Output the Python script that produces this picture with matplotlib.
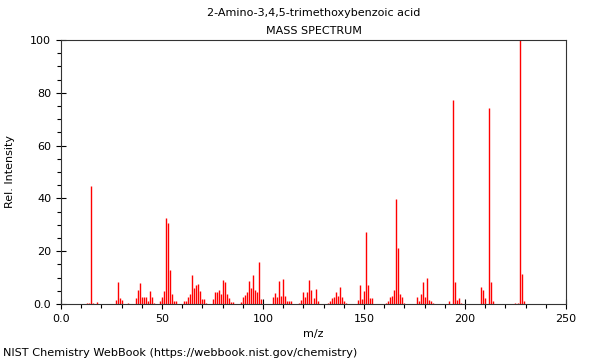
import numpy as np
import matplotlib.pyplot as plt
from matplotlib.ticker import MultipleLocator

# %%
title = "2-Amino-3,4,5-trimethoxybenzoic acid"
mz = [13, 14, 15, 16, 18, 27, 28, 29, 30, 33, 37, 38, 39, 40, 41, 42, 43, 44, 45, 46,
      49, 50, 51, 52, 53, 54, 55, 56, 57, 61, 62, 63, 64, 65, 66, 67, 68, 69, 70, 71, 72,
      75, 76, 77, 78, 79, 80, 81, 82, 83, 84, 85, 89, 90, 91, 92, 93, 94, 95, 96, 97, 98, 99,
      105, 106, 107, 108, 109, 110, 111, 112, 113, 114, 118, 119, 120, 121, 122, 123, 124,
      125, 126, 127, 132, 133, 134, 135, 136, 137, 138, 139, 140, 141, 147, 148, 149, 150,
      151, 152, 153, 154, 161, 162, 163, 164, 165, 166, 167, 168, 169, 170, 176, 177, 178,
      179, 180, 181, 182, 183, 184, 192, 194, 195, 196, 197, 198, 208, 209, 210, 212, 213,
      214, 225, 226, 227, 228, 229]
intensity = [0.3, 0.5, 44.8, 0.3, 0.8, 1.5, 8.5, 2.3, 1.5, 0.5, 2.3, 5.3, 8, 2.5, 2.6, 2.6, 1.3, 4.8, 2.8, 0.5,
             1, 2.8, 5, 32.6, 30.5, 13, 3.8, 1, 1, 1, 1.3, 2.8, 3.8, 10.9, 6.2, 7.2, 7.7, 5, 2, 1.8, 0.5,
             1.8, 4.4, 4.5, 5.3, 3.6, 9, 8.3, 3.8, 2.3, 0.6, 0.6, 0.6, 2.5, 3.3, 4.5, 8.8, 6, 11, 5.2, 4.5, 16, 1.9,
             2.6, 4.3, 2.5, 8.6, 3, 9.4, 3, 1, 1.3, 1.3, 0.5, 1.5, 4.7, 2.7, 4.5, 9, 5.3,
             2.3, 5.7, 1, 0.5, 1.3, 2.3, 2.7, 4.6, 3, 6.5, 2.8, 1, 0.5, 1.5, 7.2, 2, 5,
             27.3, 7.3, 2.3, 2.3, 0.5, 1, 2.5, 3, 5.3, 39.9, 21.2, 3.8, 2.5, 0.5, 2.5, 1.1, 3.8,
             8.3, 2.5, 10, 1.4, 1.1, 0.5, 1, 77.2, 8.5, 1.5, 2.4, 0.5, 6.3, 5.3, 2.4, 74.1, 8.3,
             1.2, 0.4, 0.5, 100, 11.5, 1]
xticks = [0, 50, 100, 150, 200, 250]
xticklabels = ["0.0", "50", "100", "150", "200", "250"]
yticks = [0, 20, 40, 60, 80, 100]
yticklabels = ["0.0", "20", "40", "60", "80", "100"]

# %%
plt.rcParams['font.family'] = ['DejaVu Sans']
plt.rcParams['font.size'] = 8

fig = plt.figure(figsize=(6, 3.6), dpi=100)
ax = fig.add_axes([0.1017, 0.1556, 0.8416, 0.7333])
ax.vlines(mz, 0, intensity, colors='red', linewidth=1)
ax.set_xlim(0, 250)
ax.set_ylim(0, 100)
ax.set_xticks(xticks)
ax.set_xticklabels(xticklabels)
ax.set_yticks(yticks)
ax.set_yticklabels(yticklabels)
ax.xaxis.set_minor_locator(MultipleLocator(10))
ax.yaxis.set_minor_locator(MultipleLocator(5))
ax.tick_params(which='major', direction='inout', length=7, width=0.8, labelsize=8)
ax.tick_params(which='minor', direction='out', length=3, width=0.8)
for s in ax.spines.values():
    s.set_color('#333333')
    s.set_linewidth(0.8)

ax.set_xlabel("m/z", fontsize=8)
ax.set_ylabel("Rel. Intensity", fontsize=8)
ax.yaxis.set_label_coords(-0.092, 0.5)
fig.text(0.5225, 0.963, title, ha='center', va='center', fontsize=8)
fig.text(0.5225, 0.915, "MASS SPECTRUM", ha='center', va='center', fontsize=8)
fig.text(0.005, 0.02, "NIST Chemistry WebBook (https://webbook.nist.gov/chemistry)",
         ha='left', va='center', fontsize=8.1)

fig.savefig("out.png", dpi=100)
